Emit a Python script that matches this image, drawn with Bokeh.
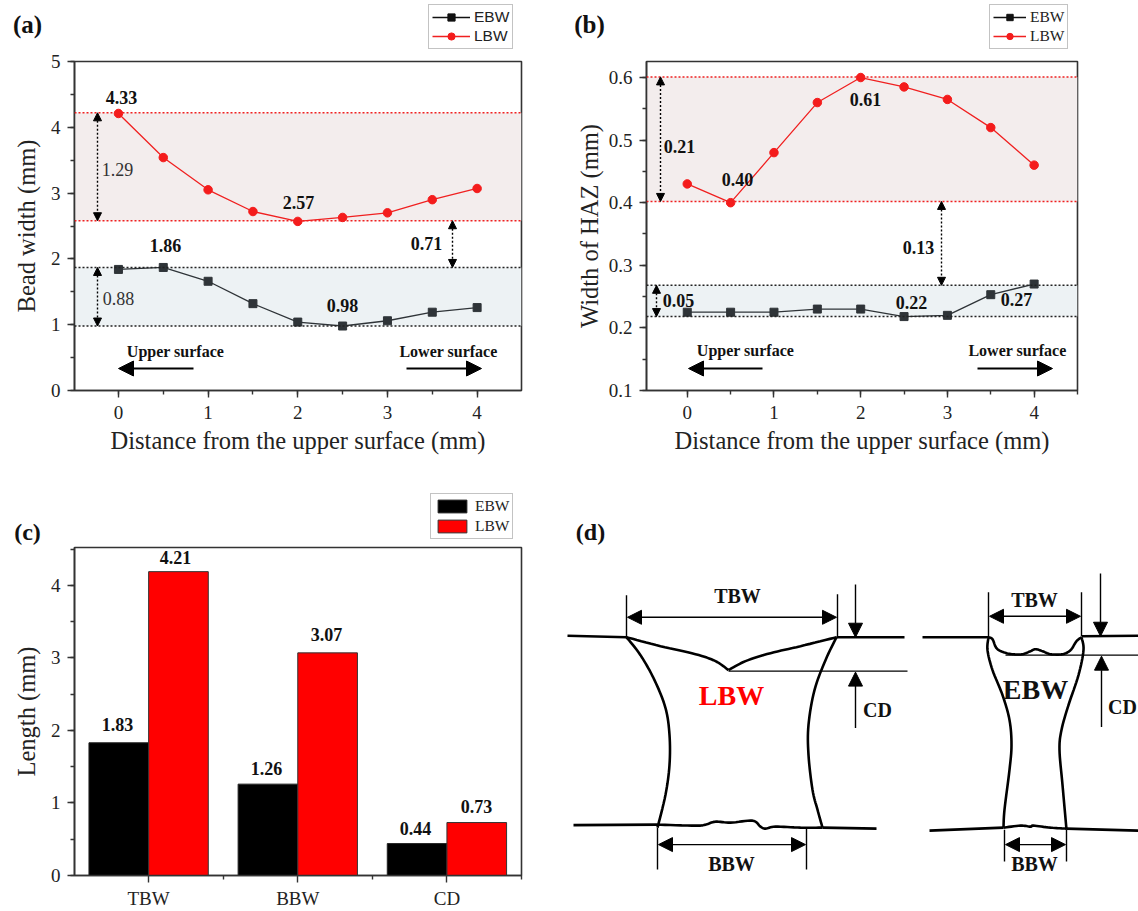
from bokeh.plotting import figure
from bokeh.layouts import column, row
from bokeh.models import (Range1d, Span, BoxAnnotation, Arrow, NormalHead, Label, Legend, LegendItem,
                          SingleIntervalTicker, FixedTicker)
from bokeh.embed import file_html
from bokeh.resources import INLINE
import numpy as np

SERIF = "Liberation Serif"
SANS = "Liberation Sans"
RED = "#f02020"
DARK = "#2f3438"

# ---------- data ----------
distance = [0, 0.5, 1, 1.5, 2, 2.5, 3, 3.5, 4]
bead_lbw = [4.21, 3.54, 3.05, 2.72, 2.57, 2.63, 2.70, 2.90, 3.07]
bead_ebw = [1.84, 1.87, 1.66, 1.32, 1.04, 0.98, 1.06, 1.19, 1.26]
haz_lbw = [0.43, 0.40, 0.48, 0.56, 0.60, 0.585, 0.565, 0.52, 0.46]
haz_ebw = [0.225, 0.225, 0.225, 0.23, 0.23, 0.218, 0.22, 0.253, 0.27]
bar_categories = ["TBW", "BBW", "CD"]
bar_ebw = [1.83, 1.26, 0.44]
bar_lbw = [4.19, 3.07, 0.73]
bar_ebw_labels = ["1.83", "1.26", "0.44"]
bar_lbw_labels = ["4.21", "3.07", "0.73"]
bead_bands = dict(lbw=(2.58, 4.22), ebw=(0.98, 1.87))
haz_bands = dict(lbw=(0.402, 0.601), ebw=(0.218, 0.268))


def mapper(fx0, fx1, fy0, fy1, xr, yr):
    """page pixel -> data, for notes placed by eye"""
    return (lambda x: xr[0] + (x - fx0) / (fx1 - fx0) * (xr[1] - xr[0]),
            lambda y: yr[0] + (fy1 - y) / (fy1 - fy0) * (yr[1] - yr[0]))


def base_fig(w, h, left, right, top, bottom, xr, yr):
    p = figure(width=w, height=h, x_range=Range1d(*xr), y_range=Range1d(*yr),
               min_border_left=left, min_border_right=right, min_border_top=top, min_border_bottom=bottom,
               toolbar_location=None, output_backend="svg", background_fill_color="white",
               border_fill_color="white")
    p.grid.visible = False
    p.outline_line_color = "#333333"
    p.outline_line_width = 1.6
    for ax in (p.xaxis[0], p.yaxis[0]):
        ax.axis_line_color = "#333333"
        ax.axis_line_width = 1.6
        ax.major_tick_line_color = "#333333"
        ax.minor_tick_line_color = "#333333"
        ax.major_tick_line_width = 1.4
        ax.minor_tick_line_width = 1.4
        ax.major_tick_in = 0
        ax.major_tick_out = 7
        ax.minor_tick_in = 0
        ax.minor_tick_out = 4
        ax.major_label_text_font = SERIF
        ax.major_label_text_font_size = "19px"
        ax.major_label_text_color = "#222222"
        ax.axis_label_text_font = SERIF
        ax.axis_label_text_font_size = "24.5px"
        ax.axis_label_text_font_style = "normal"
        ax.axis_label_text_color = "#222222"
    return p


def note(p, fx, fy, x, y, text, size=18, bold=True, color="#111111", font=SERIF):
    p.add_layout(Label(x=fx(x), y=fy(y), text=text, text_font=font, text_font_size=f"{size}px",
                       text_font_style="bold" if bold else "normal", text_color=color,
                       text_align="center", text_baseline="middle"))


def dbl_arrow(p, x, y0, y1):
    p.add_layout(Arrow(x_start=x, x_end=x, y_start=y0, y_end=y1, line_color="black", line_width=1.4,
                       line_dash="2 2",
                       start=NormalHead(size=8, fill_color="black", line_color="black"),
                       end=NormalHead(size=8, fill_color="black", line_color="black")))


def big_arrow(p, x0, x1, y):
    p.add_layout(Arrow(x_start=x0, x_end=x1, y_start=y, y_end=y, line_color="black", line_width=2,
                       end=NormalHead(size=15, fill_color="black", line_color="black")))


def line_panel(w, left, right, xr, yr, xs, lbw, ebw, bands, ylabel, yint, ystandoff):
    p = base_fig(w, 416, left, right, 11, 76, xr, yr)
    p.xaxis[0].ticker = SingleIntervalTicker(interval=1, num_minor_ticks=2)
    p.yaxis[0].ticker = SingleIntervalTicker(interval=yint, num_minor_ticks=2)
    p.xaxis[0].axis_label = "Distance from the upper surface (mm)"
    p.yaxis[0].axis_label = ylabel
    p.xaxis[0].major_label_standoff = 8
    p.xaxis[0].axis_label_standoff = 5
    p.yaxis[0].major_label_standoff = 7
    p.yaxis[0].axis_label_standoff = ystandoff
    p.add_layout(BoxAnnotation(bottom=bands["lbw"][0], top=bands["lbw"][1], fill_color="#f3eded", fill_alpha=1,
                               line_color=None, level="underlay"))
    p.add_layout(BoxAnnotation(bottom=bands["ebw"][0], top=bands["ebw"][1], fill_color="#edf2f4", fill_alpha=1,
                               line_color=None, level="underlay"))
    for v, c in ((bands["lbw"][0], RED), (bands["lbw"][1], RED), (bands["ebw"][0], "#222222"), (bands["ebw"][1], "#222222")):
        p.add_layout(Span(location=v, dimension="width", line_color=c, line_width=1.5, line_dash="2 2"))
    p.line(xs, ebw, line_color=DARK, line_width=1.3)
    p.scatter(xs, ebw, marker="square", size=8, fill_color=DARK, line_color=DARK)
    p.line(xs, lbw, line_color=RED, line_width=1.3)
    p.scatter(xs, lbw, marker="circle", size=8.5, fill_color="#f41c1c", line_color="#f41c1c")
    return p


def header(h):
    p = figure(width=1138, height=h, x_range=Range1d(0, 1138), y_range=Range1d(h, 0), min_border=0,
               toolbar_location=None, output_backend="svg", outline_line_color=None)
    p.axis.visible = False
    p.grid.visible = False
    return p


def line_legend(p, x, y, font, gw, lh):
    none = [np.nan]
    l1 = p.line(none, none, line_color="#111111", line_width=1.3)
    m1 = p.scatter(none, none, marker="square", size=7, fill_color="#111111", line_color="#111111")
    l2 = p.line(none, none, line_color=RED, line_width=1.3)
    m2 = p.scatter(none, none, marker="circle", size=8.5, fill_color="#f41c1c", line_color="#f41c1c")
    p.add_layout(Legend(items=[LegendItem(label="EBW", renderers=[l1, m1]), LegendItem(label="LBW", renderers=[l2, m2])],
                        location=(x, y), spacing=1, padding=3, margin=0, glyph_width=gw, glyph_height=lh,
                        label_height=lh, label_standoff=4, label_text_font=font, label_text_font_size="15.5px",
                        label_text_color="#222222", border_line_color="#888888", border_line_width=1.5), "center")


ident = lambda v: v

# ---------- header above (a), (b) ----------
h1 = header(50)
note(h1, ident, ident, 27, 24, "(a)", size=25)
note(h1, ident, ident, 589, 24, "(b)", size=25)
line_legend(h1, 428, 1, SANS, 38, 18)
line_legend(h1, 989, 1, SERIF, 33, 16)

# ---------- (a) ----------
xra, yra = (-0.49, 4.495), (0, 5)
pa = line_panel(562, 74, 41, xra, yra, distance, bead_lbw, bead_ebw, bead_bands, "Bead width (mm)", 1, 8)
ax, ay = mapper(74, 521, 61, 390, xra, yra)
for x, y, t in [(121, 97, "4.33"), (298, 202, "2.57"), (165, 245, "1.86"), (342, 305, "0.98"), (426, 243, "0.71")]:
    note(pa, ax, ay, x, y, t)
note(pa, ax, ay, 117, 169, "1.29", bold=False, color="#333333")
note(pa, ax, ay, 118, 298, "0.88", bold=False, color="#333333")
note(pa, ax, ay, 175, 351, "Upper surface", size=16)
note(pa, ax, ay, 448, 351, "Lower surface", size=16)
big_arrow(pa, ax(193), ax(118), ay(368))
big_arrow(pa, ax(406), ax(481), ay(368))
dbl_arrow(pa, ax(97), bead_bands["lbw"][1], bead_bands["lbw"][0])
dbl_arrow(pa, ax(97), bead_bands["ebw"][1], bead_bands["ebw"][0])
dbl_arrow(pa, ax(452), bead_bands["lbw"][0], bead_bands["ebw"][1])

# ---------- (b) ----------
xrb, yrb = (-0.47, 4.5), (0.0999, 0.6256)
pb = line_panel(576, 84, 61, xrb, yrb, distance, haz_lbw, haz_ebw, haz_bands, "Width of HAZ (mm)", 0.1, 3)
bx, by = mapper(646, 1077, 61, 390, xrb, yrb)
for x, y, t in [(679, 146, "0.21"), (737, 179, "0.40"), (865, 99, "0.61"), (918, 247, "0.13"),
                (678, 300, "0.05"), (911, 302, "0.22"), (1016, 299, "0.27")]:
    note(pb, bx, by, x, y, t)
note(pb, bx, by, 745, 350, "Upper surface", size=16)
note(pb, bx, by, 1017, 350, "Lower surface", size=16)
big_arrow(pb, bx(762), bx(688), by(368))
big_arrow(pb, bx(977), bx(1052), by(368))
dbl_arrow(pb, bx(660), haz_bands["lbw"][1], haz_bands["lbw"][0])
dbl_arrow(pb, bx(656), haz_bands["ebw"][1], haz_bands["ebw"][0])
dbl_arrow(pb, bx(941), haz_bands["lbw"][0], haz_bands["ebw"][1])

# ---------- header above (c), (d) ----------
h2 = header(80)
hy = lambda y: y - 466
note(h2, ident, hy, 27, 531, "(c)", size=24)
note(h2, ident, hy, 590, 531, "(d)", size=24)
nn = [np.nan]
s1 = h2.vbar(nn, 1, nn, fill_color="black", line_color="#222222")
s2 = h2.vbar(nn, 1, nn, fill_color="#ff0000", line_color="#333333")
h2.add_layout(Legend(items=[LegendItem(label="EBW", renderers=[s1]), LegendItem(label="LBW", renderers=[s2])],
                     location=(430, 7), spacing=2, padding=3, margin=0, glyph_width=36, glyph_height=16,
                     label_height=16, label_standoff=5, label_text_font=SERIF, label_text_font_size="15.5px",
                     label_text_color="#222222", border_line_color="#888888", border_line_width=1.5), "center")

# ---------- (c) ----------
xrc = (-0.497, 2.5)
yrc = (0, 4.523)
pc = base_fig(562, 365, 74, 41, 1, 35, xrc, yrc)
cx, cy = mapper(74, 521, 547, 876, xrc, yrc)
pos = np.arange(len(bar_categories))
pc.xaxis[0].ticker = FixedTicker(ticks=list(pos), minor_ticks=[-0.5, 0.5, 1.5, 2.5])
pc.xaxis[0].major_label_overrides = {int(i): c for i, c in zip(pos, bar_categories)}
pc.xaxis[0].major_label_standoff = 5
pc.yaxis[0].ticker = SingleIntervalTicker(interval=1, num_minor_ticks=2)
pc.yaxis[0].axis_label = "Length (mm)"
pc.yaxis[0].major_label_standoff = 7
pc.yaxis[0].axis_label_standoff = 8
pc.vbar(pos - 0.2, 0.4, bar_ebw, fill_color="black", line_color="#222222", line_width=1)
pc.vbar(pos + 0.2, 0.4, bar_lbw, fill_color="#ff0000", line_color="#333333", line_width=1)
for x, y, t in zip((117, 266, 415), (725, 769, 829), bar_ebw_labels):
    note(pc, cx, cy, x, y, t)
for x, y, t in zip((175, 326, 476), (557, 634, 807), bar_lbw_labels):
    note(pc, cx, cy, x, y, t)

# ---------- (d) schematic, drawn in page pixels ----------
pd_ = figure(width=576, height=365, x_range=Range1d(562, 1138), y_range=Range1d(876, 547),
             min_border_left=0, min_border_right=0, min_border_top=1, min_border_bottom=35,
             toolbar_location=None, output_backend="svg", outline_line_color=None)
pd_.axis.visible = False
pd_.grid.visible = False

smooth = [
    [(626, 637), (660, 646), (695, 654), (715, 661), (728, 670)],
    [(728, 670), (745, 661), (770, 653), (800, 646), (836, 637)],
    [(626, 637), (640, 655), (654, 680), (665, 708), (669, 735), (669, 765), (665, 795), (657, 828)],
    [(836, 637), (825, 660), (814, 690), (808, 725), (808, 755), (812, 790), (817, 810), (822, 828)],
    [(657, 825), (695, 826), (705, 825), (715, 822), (730, 823), (752, 821), (760, 827), (765, 829),
     (775, 827), (800, 828), (822, 828)],
    [(988, 637), (992, 639), (996, 648), (1003, 652), (1012, 654), (1022, 654), (1030, 651), (1035, 649),
     (1042, 651), (1050, 654), (1062, 654), (1070, 650), (1076, 641), (1081, 637)],
    [(988, 637), (987, 650), (992, 670), (1002, 695), (1009, 720), (1011, 745), (1009, 770), (1004, 810), (1003, 828)],
    [(1081, 637), (1083, 650), (1078, 675), (1068, 705), (1061, 730), (1059, 750), (1062, 785), (1066, 830)],
    [(1003, 828), (1020, 826), (1030, 827), (1033, 826), (1050, 828), (1066, 829)],
]
straight = [
    [(567, 635.5), (626, 637)], [(836, 637), (904, 637)], [(573, 825.5), (657, 825)], [(822, 828), (876, 829)],
    [(922, 637), (988, 637)], [(1081, 636), (1138, 635.5)], [(929, 831), (1003, 828)], [(1066, 829), (1138, 831)],
]
thin = [
    [(728, 671), (907, 671)], [(626, 595), (626, 637)], [(837, 594), (837, 637)],
    [(657, 828), (657, 870)], [(806, 829), (806, 870)],
    [(1005, 655), (1138, 655)], [(988, 592), (988, 637)], [(1081, 592), (1081, 636)],
    [(1004, 830), (1004, 862)], [(1066, 830), (1066, 862)],
]


def spline(pts, n=8):
    a = np.array([pts[0]] + pts + [pts[-1]], dtype=float)
    out = []
    for i in range(1, len(a) - 2):
        for t in np.linspace(0, 1, n, endpoint=False):
            out.append(0.5 * (2 * a[i] + (a[i + 1] - a[i - 1]) * t + (2 * a[i - 1] - 5 * a[i] + 4 * a[i + 1] - a[i + 2]) * t ** 2
                              + (3 * a[i] - a[i - 1] - 3 * a[i + 1] + a[i + 2]) * t ** 3))
    out.append(a[-2])
    return np.array(out)


for pts in smooth:
    c = spline(pts)
    pd_.line(c[:, 0], c[:, 1], line_color="black", line_width=2.6)
for pts in straight:
    pd_.line([a for a, _ in pts], [b for _, b in pts], line_color="black", line_width=2.6)
for pts in thin:
    pd_.line([a for a, _ in pts], [b for _, b in pts], line_color="black", line_width=1.4)


def head(sz=14):
    return NormalHead(size=sz, fill_color="black", line_color="black")


for x0, x1, y in [(627, 836, 617), (658, 805, 845), (989, 1080, 616), (1005, 1065, 845)]:
    pd_.add_layout(Arrow(x_start=x0, x_end=x1, y_start=y, y_end=y, line_color="black", line_width=1.4,
                         start=head(), end=head()))
for x, y0, y1 in [(855, 584, 637), (855, 728, 672), (1100, 573, 636), (1101, 727, 656)]:
    pd_.add_layout(Arrow(x_start=x, x_end=x, y_start=y0, y_end=y1, line_color="black", line_width=1.4, end=head()))

for x, y, t, s, c in [(737, 596, "TBW", 20, "#111111"), (877, 710, "CD", 20, "#111111"), (731, 864, "BBW", 20, "#111111"),
                      (731, 695, "LBW", 28, "#ff0000"), (1034, 600, "TBW", 20, "#111111"), (1122, 707, "CD", 20, "#111111"),
                      (1034, 864, "BBW", 20, "#111111"), (1035, 689, "EBW", 28, "#111111")]:
    note(pd_, ident, ident, x, y, t, size=s, color=c)

layout = column(h1, row(pa, pb, spacing=0), h2, row(pc, pd_, spacing=0), spacing=0)
open("out.html", "w").write(file_html(layout, INLINE))
